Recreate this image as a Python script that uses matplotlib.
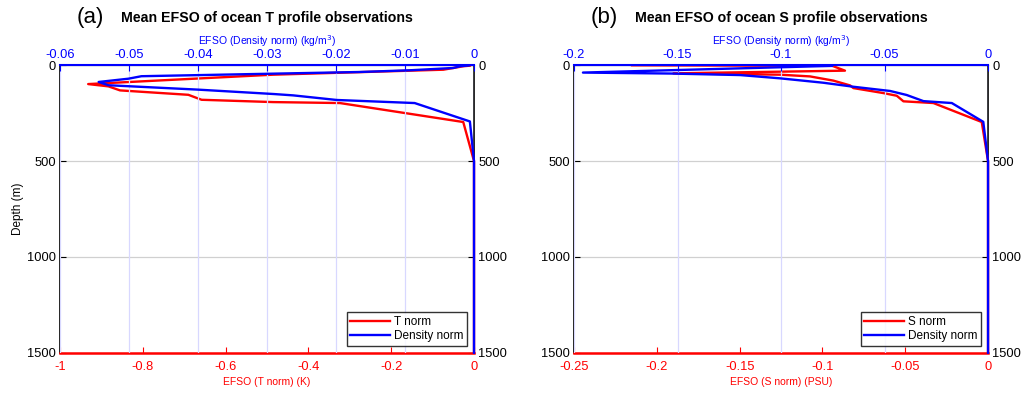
import matplotlib
matplotlib.use('Agg')
import matplotlib.pyplot as plt

plt.rcParams['font.family'] = ['Liberation Sans', 'DejaVu Sans']

RED = '#ff0000'
BLUE = '#0000ff'

# panel (a): temperature profile
t_depth = [2, 5, 23, 49, 98, 110, 131, 154, 180, 192, 197, 296, 500, 1500]
t_efso = [-0.01, -0.026, -0.074, -0.485, -0.932, -0.883, -0.855, -0.69,
          -0.658, -0.485, -0.324, -0.026, 0.0, 0.0]
t_rho_depth = [1, 5, 14, 26, 35, 45, 57, 70, 87, 104, 127, 150, 157, 181,
               197, 293, 500, 1500]
t_rho = [-0.0008, -0.002, -0.003, -0.0093, -0.0166, -0.031, -0.0482,
         -0.0501, -0.0544, -0.053, -0.040, -0.029, -0.0262, -0.0199,
         -0.0086, -0.0006, 0.0, 0.0]

# panel (b): salinity profile
s_depth = [0, 3, 28, 42, 49, 58, 80, 105, 119, 145, 159, 188, 197, 296,
           500, 1500]
s_efso = [-0.215, -0.094, -0.0864, -0.190, -0.1256, -0.1075, -0.0934,
          -0.0833, -0.0813, -0.0632, -0.0551, -0.0511, -0.033, -0.0038,
          0.0, 0.0]
s_rho_depth = [3, 38, 43, 51, 68, 91, 112, 134, 155, 187, 197, 295, 500,
               1500]
s_rho = [-0.0754, -0.1957, -0.1536, -0.1198, -0.1005, -0.0796, -0.065,
         -0.0473, -0.0393, -0.0312, -0.0175, -0.0023, 0.0, 0.0]

panels = [
    dict(tag='(a)', title='Mean EFSO of ocean T profile observations',
         x=t_efso, y=t_depth, xr=t_rho, yr=t_rho_depth, name='T norm',
         xlim=(-1, 0), xticks=[-1, -0.8, -0.6, -0.4, -0.2, 0],
         rlim=(-0.06, 0), rticks=[-0.06, -0.05, -0.04, -0.03, -0.02, -0.01, 0],
         xlabel='EFSO (T norm) (K)'),
    dict(tag='(b)', title='Mean EFSO of ocean S profile observations',
         x=s_efso, y=s_depth, xr=s_rho, yr=s_rho_depth, name='S norm',
         xlim=(-0.25, 0), xticks=[-0.25, -0.2, -0.15, -0.1, -0.05, 0],
         rlim=(-0.2, 0), rticks=[-0.2, -0.15, -0.1, -0.05, 0],
         xlabel='EFSO (S norm) (PSU)'),
]


def fmt(v):
    return '0' if v == 0 else ('%g' % v)


fig = plt.figure(figsize=(10.26, 3.95), dpi=100)
lefts = [0.0585, 0.5595]

for p, left in zip(panels, lefts):
    ax = fig.add_axes([left, 0.107, 0.4035, 0.7277])
    l1, = ax.plot(p['x'], p['y'], color=RED, lw=1.7, clip_on=False, zorder=3)
    ax.set_xlim(*p['xlim'])
    ax.set_ylim(1500, 0)
    ax.set_xticks(p['xticks'])
    ax.set_xticklabels([fmt(v) for v in p['xticks']])
    ax.set_yticks([0, 500, 1000, 1500])
    ax.yaxis.grid(True, color='#d0d0d0', lw=0.9)
    ax.tick_params(axis='x', colors=RED, direction='in', length=4,
                   labelsize=9.3, pad=6)
    ax.tick_params(axis='y', direction='in', length=4, labelsize=9.3,
                   right=True, labelright=True, pad=3)
    ax.spines['bottom'].set_color(RED)
    ax.spines['bottom'].set_linewidth(1.8)
    ax.spines['left'].set_linewidth(1.2)
    ax.spines['right'].set_linewidth(1.2)
    ax.set_xlabel(p['xlabel'], color=RED, fontsize=7.5, labelpad=3)
    if left < 0.5:
        ax.set_ylabel('Depth (m)', fontsize=8.5, labelpad=2)

    tw = ax.twiny()
    l2, = tw.plot(p['xr'], p['yr'], color=BLUE, lw=1.7, clip_on=False,
                  zorder=3)
    tw.set_xlim(*p['rlim'])
    tw.set_xticks(p['rticks'])
    tw.set_xticklabels([fmt(v) for v in p['rticks']])
    tw.xaxis.grid(True, color='#d8d8ff', lw=0.9)
    tw.set_axisbelow(True)
    tw.tick_params(axis='x', colors=BLUE, direction='in', length=4,
                   labelsize=9.3, pad=3)
    tw.spines['top'].set_color(BLUE)
    tw.spines['top'].set_linewidth(1.5)
    for s in ('bottom', 'left', 'right'):
        tw.spines[s].set_visible(False)
    tw.set_xlabel('EFSO (Density norm) (kg/m$^3$)', color=BLUE,
                  fontsize=7.5, labelpad=3)

    leg = tw.legend([l1, l2], [p['name'], 'Density norm'], loc='lower right',
                    fontsize=8.5, frameon=True, fancybox=False,
                    borderaxespad=0.6, handlelength=3.4, borderpad=0.3,
                    labelspacing=0.2, handletextpad=0.3)
    leg.get_frame().set_edgecolor('black')
    leg.get_frame().set_linewidth(1.0)

    cx = left + 0.4035 / 2
    fig.text(cx, 0.955, p['title'], ha='center', va='center',
             fontsize=10.2, fontweight='bold')
    fig.text(cx - 0.172, 0.955, p['tag'], ha='center', va='center',
             fontsize=16)

fig.savefig('out.png', dpi=100)
